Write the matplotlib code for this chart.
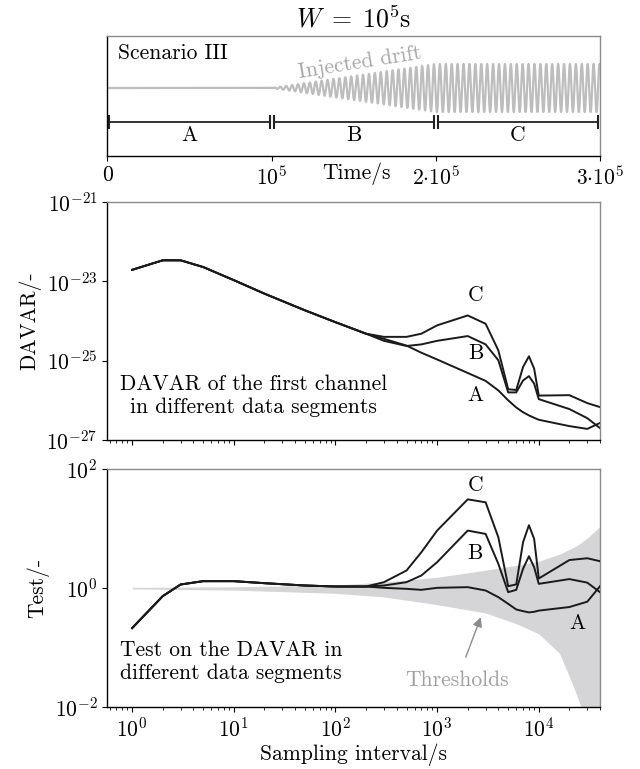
import numpy as np
import matplotlib
matplotlib.use("Agg")
import matplotlib.pyplot as plt
import matplotlib.ticker as mticker

plt.rcParams.update({
    "font.family": "serif", "font.serif": ["cmr10"],
    "mathtext.fontset": "cm", "axes.formatter.use_mathtext": True,
    "font.size": 15.5, "axes.unicode_minus": False,
    "xtick.major.size": 3.5, "ytick.major.size": 3.5,
    "xtick.minor.size": 2.0, "axes.linewidth": 1.0,
})

# ── data ─────────────────────────────────────────────────────────────────────
# top panel: injected drift (amplitude envelope + period), segment limits
ENV_T = [0, 1e5, 2e5, 3e5]
ENV_AMP = [0, 0, 24, 24]
DRIFT_PERIOD = 3600.0
SEGMENTS = ["A", "B", "C"]
SEG_START = [1200, 101200, 201200]
SEG_END = [98800, 198800, 298800]

# sampling intervals (s)
TAU = [1, 2, 3, 5, 10, 20, 50, 100, 200, 300, 500, 700, 1000, 2000, 3000,
       4000, 5000, 6000, 7000, 8000, 9000, 10000, 20000, 30000, 40000]

# DAVAR, log10 values
DAVAR_COMMON = [-22.71, -22.47, -22.47, -22.64, -22.97, -23.31, -23.73, -24.03, -24.32]
DAVAR_A = DAVAR_COMMON + [-24.45, -24.62, -24.80, -24.97, -25.31, -25.51, -25.75, -26.00,
                          -26.18, -26.30, -26.38, -26.44, -26.49, -26.65, -26.72, -26.57]
DAVAR_B = DAVAR_COMMON + [-24.50, -24.63, -24.59, -24.50, -24.38, -24.59, -24.99, -25.80,
                          -25.80, -25.50, -25.39, -25.58, -25.97, -26.22, -26.45, -26.70]
DAVAR_C = DAVAR_COMMON + [-24.40, -24.40, -24.32, -24.11, -23.86, -24.07, -24.74, -25.72,
                          -25.74, -25.16, -24.89, -25.20, -25.88, -25.87, -26.07, -26.17]

# test statistic, log10 values
TEST_COMMON = [-0.674, -0.137, 0.059, 0.115, 0.115, 0.081, 0.042, 0.025, 0.025]
TEST_A = TEST_COMMON + [0.003, -0.014, -0.031, 0.003, 0.014, -0.042, -0.154, -0.266,
                        -0.361, -0.389, -0.41, -0.40, -0.38, -0.32, -0.23, 0.03]
TEST_B = TEST_COMMON + [0.042, 0.098, 0.210, 0.434, 0.965, 0.909, 0.406, -0.07,
                        -0.031, 0.322, 0.534, 0.350, 0.070, 0.150, 0.09, -0.07]
TEST_C = TEST_COMMON + [0.098, 0.294, 0.601, 0.965, 1.49, 1.44, 0.853, 0.03,
                        0.06, 0.769, 1.055, 0.825, 0.16, 0.47, 0.50, 0.45]

# threshold band, log10 values
THR_TAU = [1, 10, 100, 300, 1000, 3000, 6000, 10000, 16000, 22000, 26000, 30000, 40000]
THR_UP = [0.01, 0.02, 0.05, 0.10, 0.18, 0.30, 0.38, 0.45, 0.57, 0.68, 0.76, 0.84, 1.03]
THR_LO = [-0.015, -0.035, -0.09, -0.15, -0.28, -0.42, -0.60, -0.77, -1.10, -1.66,
          -2.0, -2.5, -3.5]

LINE_C = "#1a1a1a"
GRAY_SPINE = "#8a8a8a"

fig = plt.figure(figsize=(6.4, 7.69), dpi=100)
L, W = 107.3 / 640, 492.7 / 640
ax0 = fig.add_axes([L, 1 - 156 / 769, W, 120 / 769])
ax1 = fig.add_axes([L, 1 - 440 / 769, W, 238 / 769])
ax2 = fig.add_axes([L, 1 - 707 / 769, W, 238 / 769])

for ax in (ax0, ax1, ax2):
    ax.spines["top"].set_color(GRAY_SPINE)
    ax.spines["right"].set_color(GRAY_SPINE)

# ── top: scenario sketch ─────────────────────────────────────────────────────
t = np.linspace(0, 3e5, 30000)
drift = np.interp(t, ENV_T, ENV_AMP) * np.sin(2 * np.pi * t / DRIFT_PERIOD)
ax0.plot(t, drift, color="#bdbdbd", lw=1.6)
for name, s, e in zip(SEGMENTS, SEG_START, SEG_END):
    ax0.plot([s, e], [-33.7, -33.7], color="#222222", lw=1.3,
             marker="|", ms=10, mew=1.5)
    ax0.text((s + e) / 2, -47, name, ha="center", va="center")
ax0.text(0.021, 0.86, "Scenario III", transform=ax0.transAxes,
         ha="left", va="center")
ax0.text(1.54e5, 25, "Injected drift", color="#a8a8a8", rotation=9,
         ha="center", va="center")
ax0.set_xlim(0, 3e5)
ax0.set_ylim(-68, 52)
ax0.set_yticks([])
ax0.set_xticks([0, 1e5, 2e5, 3e5])
ax0.set_xticklabels(["0", r"$10^5$", r"$2{\cdot}10^5$", r"$3{\cdot}10^5$"])
ax0.text(0.505, -0.15, "Time/s", transform=ax0.transAxes,
         ha="center", va="center")
ax0.set_title(r"$W\;=\;10^5$s", pad=6)

# ── middle: DAVAR ─────────────────────────────────────────────────────────────
for vals in (DAVAR_A, DAVAR_B, DAVAR_C):
    ax1.plot(TAU, 10.0 ** np.array(vals), color=LINE_C, lw=1.4)
ax1.set_xscale("log")
ax1.set_yscale("log")
ax1.set_xlim(0.57, 4e4)
ax1.set_ylim(1e-27, 1e-21)
ax1.set_yticks([1e-21, 1e-23, 1e-25, 1e-27])
ax1.yaxis.set_minor_locator(mticker.NullLocator())
ax1.tick_params(axis="x", labelbottom=False)
ax1.set_ylabel("DAVAR/-")
for name, ly in zip(["C", "B", "A"], [-23.35, -24.82, -25.87]):
    ax1.text(10 ** 3.38, 10 ** ly, name, ha="center", va="center")
ax1.text(0.297, 0.186, "DAVAR of the first channel\nin different data segments",
         transform=ax1.transAxes, ha="center", va="center", linespacing=1.25)

# ── bottom: test ──────────────────────────────────────────────────────────────
ax2.fill_between(THR_TAU, 10.0 ** np.array(THR_LO), 10.0 ** np.array(THR_UP),
                 color="#d5d5d7", lw=0, zorder=1)
for vals in (TEST_A, TEST_B, TEST_C):
    ax2.plot(TAU, 10.0 ** np.array(vals), color=LINE_C, lw=1.4, zorder=3)
ax2.set_xscale("log")
ax2.set_yscale("log")
ax2.set_xlim(0.57, 4e4)
ax2.set_ylim(1e-2, 1e2)
ax2.set_yticks([1e-2, 1, 1e2])
ax2.yaxis.set_minor_locator(mticker.NullLocator())
ax2.set_ylabel("Test/-")
ax2.set_xlabel("Sampling interval/s", labelpad=2)
ax2.text(10 ** 3.38, 10 ** 1.72, "C", ha="center", va="center")
ax2.text(10 ** 3.37, 10 ** 0.585, "B", ha="center", va="center")
ax2.text(10 ** 4.38, 10 ** -0.59, "A", ha="center", va="center")
ax2.text(0.025, 0.19, "Test on the DAVAR in\ndifferent data segments",
         transform=ax2.transAxes, ha="left", va="center", linespacing=1.25)
ax2.annotate("Thresholds", xy=(10 ** 3.43, 10 ** -0.49),
             xytext=(0.71, 0.113), textcoords="axes fraction",
             color="#a0a0a0", ha="center", va="center",
             arrowprops=dict(arrowstyle="-|>", color="#8c8c8c", lw=1.0,
                             mutation_scale=14, shrinkA=8, shrinkB=0))

fig.savefig("out.png", dpi=100)
